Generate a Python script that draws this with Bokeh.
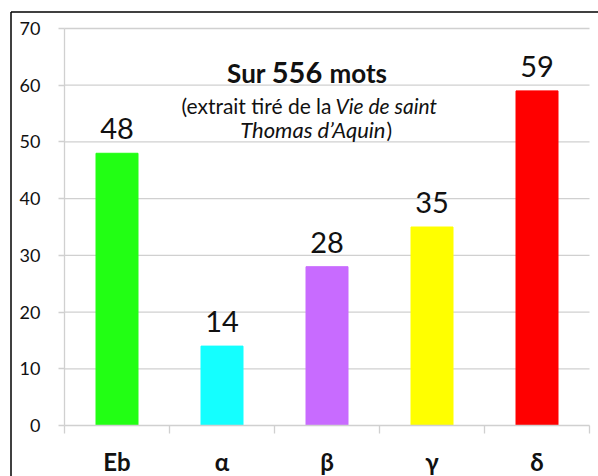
from bokeh.plotting import figure
from bokeh.models import (ColumnDataSource, Range1d, FixedTicker, LabelSet, Label)
from bokeh.core.properties import value
from bokeh.embed import file_html
from bokeh.resources import INLINE

categories = ["Eb", "α", "β", "γ", "δ"]
values = [48, 14, 28, 35, 59]
colors = ["#22FF14", "#14FFFF", "#C86BFF", "#FFFF00", "#FF0000"]
y_ticks = [0, 10, 20, 30, 40, 50, 60, 70]

title_parts = ["Sur", "556", "mots"]
subtitle_line1 = ["(extrait tiré de la", "Vie de saint"]
subtitle_line2 = ["Thomas d’Aquin", ")"]

FONT = "Lato"
TXT = "#111111"
GRID = "#d0d0d0"

def px_x(px):
    return (px - 64) / 105.0

def px_y(py):
    return (425 - py) / (397 / 70.0)

centers = [i + 0.5 for i in range(len(categories))]
source = ColumnDataSource(dict(x=centers, top=values, color=colors,
                               label=[str(v) for v in values]))

# the frame covers the whole boxed area; axes sit at x=0 and y=0 inside it
p = figure(width=598, height=476, output_backend="svg", toolbar_location=None,
           x_range=Range1d(px_x(9), px_x(598)), y_range=Range1d(px_y(476), px_y(10)))
p.min_border_left = 9
p.min_border_right = 0
p.min_border_top = 10
p.min_border_bottom = 0
p.outline_line_color = None
p.background_fill_color = "white"
p.border_fill_color = "white"
p.xgrid.visible = False
p.ygrid.visible = False

# horizontal gridlines from the tick values
grid_src = ColumnDataSource(dict(y=y_ticks[1:], x0=[0] * (len(y_ticks) - 1),
                                 x1=[len(categories)] * (len(y_ticks) - 1)))
p.segment(x0="x0", x1="x1", y0="y", y1="y", source=grid_src, line_color=GRID,
          line_width=1.3, level="underlay")

p.vbar(x="x", top="top", width=0.4, color="color", source=source)

# outer box line: left and top edges only
box_src = ColumnDataSource(dict(x0=[px_x(10.5), px_x(10.5)], x1=[px_x(10.5), px_x(598)],
                                y0=[px_y(476), px_y(11.5)], y1=[px_y(11.5), px_y(11.5)]))
p.segment(x0="x0", x1="x1", y0="y0", y1="y1", source=box_src, line_color="black",
          line_width=1.5)

# x axis: ticks at category boundaries, labels at category centres
p.xaxis.fixed_location = 0
p.xaxis.bounds = (0, len(categories))
p.xaxis.ticker = FixedTicker(ticks=centers, minor_ticks=list(range(len(categories) + 1)))
p.xaxis.major_label_overrides = {c: cat for c, cat in zip(centers, categories)}
p.xaxis.major_tick_out = 0
p.xaxis.major_tick_in = 0
p.xaxis.minor_tick_out = 8
p.xaxis.minor_tick_in = 0
p.xaxis.minor_tick_line_color = GRID
p.xaxis.minor_tick_line_width = 1.3
p.xaxis.axis_line_color = GRID
p.xaxis.axis_line_width = 1.3
p.xaxis.major_label_text_font = FONT
p.xaxis.major_label_text_font_size = "24px"
p.xaxis.major_label_text_font_style = "bold"
p.xaxis.major_label_text_color = TXT
p.xaxis.major_label_standoff = 13

p.yaxis.fixed_location = 0
p.yaxis.bounds = (0, 70)
p.yaxis.ticker = FixedTicker(ticks=y_ticks)
p.yaxis.major_tick_out = 6
p.yaxis.major_tick_in = 0
p.yaxis.minor_tick_line_color = None
p.yaxis.major_tick_line_color = GRID
p.yaxis.major_tick_line_width = 1.3
p.yaxis.axis_line_color = GRID
p.yaxis.axis_line_width = 1.3
p.yaxis.major_label_text_font = FONT
p.yaxis.major_label_text_font_size = "18px"
p.yaxis.major_label_text_color = TXT
p.yaxis.major_label_standoff = 18

# value labels
p.add_layout(LabelSet(x="x", y="top", text="label", source=source, text_align="center",
                      text_baseline="alphabetic", y_offset=14, text_font=value(FONT),
                      text_font_size=value("29px"), text_color=value(TXT)))

def add_text(px, py, text, align, size, style="normal"):
    p.add_layout(Label(x=px_x(px), y=px_y(py), text=text, text_align=align,
                       text_baseline="alphabetic", text_font=FONT, text_font_size=size,
                       text_font_style=style, text_color=TXT))

# title
add_text(265, 72, title_parts[0], "right", "26px", "bold")
add_text(296.5, 72, title_parts[1], "center", "29px", "bold")
add_text(329, 72, title_parts[2], "left", "26px", "bold")
# subtitle
add_text(331, 105, subtitle_line1[0], "right", "21px")
add_text(335, 105, subtitle_line1[1], "left", "21px", "italic")
add_text(385, 129, subtitle_line2[0], "right", "22px", "italic")
add_text(386, 129, subtitle_line2[1], "left", "21px")

open("out.html", "w").write(file_html(p, INLINE))
